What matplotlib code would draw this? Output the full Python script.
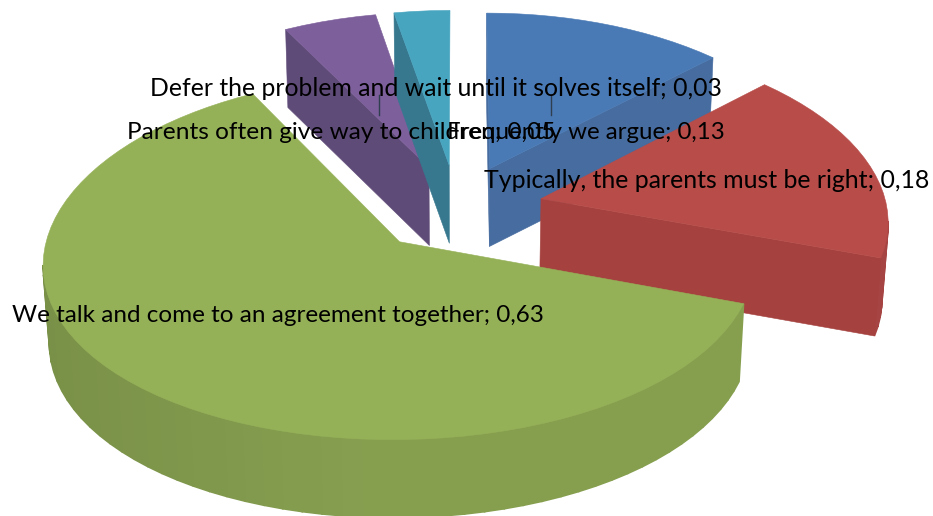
import numpy as np
import matplotlib
matplotlib.use('Agg')
import matplotlib.pyplot as plt
from matplotlib.patches import Polygon

# chart data
categories = ['Frequently we argue', 'Typically, the parents must be right',
              'We talk and come to an agreement together',
              'Parents often give way to children',
              'Defer the problem and wait until it solves itself']
values = [0.13, 0.18, 0.63, 0.05, 0.03]

# styles
top_colors = ['#4a7ab5', '#b74c49', '#95b158', '#7d5f9b', '#48a5c0']
cut_colors = ['#466ca0', '#a5423f', '#87a14e', '#5f4b78', '#37788f']
draw_order = [3, 4, 0, 1, 2]
label_xy = [(447, 139), (484, 188), (12, 322), (127, 139), (150, 96)]
label_size = [17.3, 17.95, 17.5, 17.6, 17.8]
leaders = [(379, 95, 115), (551, 95, 115)]

# projection of the pie, in pixels of the figure
explode = 0.25
cx, cy = 457, 208
rx, ry = 346, 175
persp_x = 0.11
persp_y = 0.085
depth = 78
shrink = 0.015


def project(X, Y, z=0):
    w = 1 + persp_x * Y + shrink * z
    return cx + rx * X / w, cy - ry * Y / (1 + persp_y * Y) + depth * z


def shade(color, f):
    rgb = np.array(matplotlib.colors.to_rgb(color))
    return tuple(rgb * f)


def cut_face(ax, apex, edge, color, visible_sign):
    a = project(*apex)
    b = project(*edge)
    cross = (b[0] - a[0]) * depth
    if cross * visible_sign <= 0 or abs(b[0] - a[0]) < 2:
        return
    pts = [a, b, project(*edge, 1), project(*apex, 1)]
    ax.add_patch(Polygon(pts, closed=True, fc=color, ec=color, lw=0.4))


def draw_slice(ax, start, end, top, cut):
    mid = (start + end) / 2
    ox, oy = explode * np.sin(mid), explode * np.cos(mid)
    n = max(int(np.degrees(end - start) / 3), 3)
    th = np.linspace(start, end, n + 1)
    X = ox + np.sin(th)
    Y = oy + np.cos(th)
    apex = (ox, oy)

    # outer wall, one quad per step so the shading can change
    for i in range(n):
        p0 = project(X[i], Y[i])
        p1 = project(X[i + 1], Y[i + 1])
        if p1[0] >= p0[0]:
            continue
        f = 0.90 + 0.09 * min(0, np.sin(th[i]))
        c = shade(top, f)
        q = [p0, p1, project(X[i + 1], Y[i + 1], 1), project(X[i], Y[i], 1)]
        ax.add_patch(Polygon(q, closed=True, fc=c, ec=c, lw=1.2))

    # straight cut faces, start one shows on the left side, end one on the right
    cut_face(ax, apex, (X[0], Y[0]), cut, -1)
    cut_face(ax, apex, (X[-1], Y[-1]), cut, 1)

    pts = [project(*apex)] + [project(x, y) for x, y in zip(X, Y)]
    ax.add_patch(Polygon(pts, closed=True, fc=top, ec=top, lw=0.4))


fig = plt.figure(figsize=(9.33, 5.16), dpi=100)
ax = fig.add_axes([0, 0, 1, 1])
ax.set_xlim(0, 933)
ax.set_ylim(516, 0)
ax.axis('off')

edges = np.concatenate([[0], np.cumsum(values)]) / sum(values) * 2 * np.pi
for i in draw_order:
    draw_slice(ax, edges[i], edges[i + 1], top_colors[i], cut_colors[i])

for x, y0, y1 in leaders:
    ax.plot([x, x], [y0, y1], color='#2f3f4f', lw=1)

for name, val, (x, y), size in zip(categories, values, label_xy, label_size):
    txt = '%s; %s' % (name, str(val).replace('.', ','))
    ax.text(x, y, txt, fontsize=size, family='Lato', color='black',
            ha='left', va='baseline')

fig.savefig('out.png', dpi=100)
